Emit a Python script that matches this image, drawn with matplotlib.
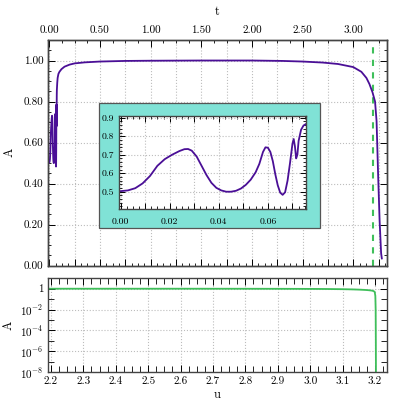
import matplotlib
matplotlib.use("Agg")
import matplotlib.pyplot as plt
from matplotlib.patches import Rectangle
from matplotlib.ticker import MultipleLocator, FixedLocator, FuncFormatter, NullFormatter, FormatStrFormatter
import numpy as np

plt.rcParams['font.family'] = 'serif'
plt.rcParams['font.serif'] = ['cmr10', 'DejaVu Serif']
plt.rcParams['mathtext.fontset'] = 'cm'
plt.rcParams['axes.formatter.use_mathtext'] = True
plt.rcParams['axes.unicode_minus'] = False

# ---------------- data ----------------
t_early = [0.000, 0.003, 0.006, 0.009, 0.012, 0.015, 0.018, 0.021, 0.024, 0.026,
           0.0275, 0.029, 0.031, 0.033, 0.035, 0.037, 0.039, 0.041, 0.043, 0.045,
           0.047, 0.049, 0.051, 0.053, 0.055, 0.0565, 0.058, 0.059, 0.060, 0.061,
           0.062, 0.063, 0.064, 0.065, 0.066, 0.067, 0.068, 0.069, 0.0700, 0.0705,
           0.0710, 0.0715, 0.0720, 0.0725, 0.0735, 0.0745, 0.0755]
A_early = [0.503, 0.507, 0.519, 0.545, 0.585, 0.640, 0.676, 0.700, 0.720, 0.730,
           0.731, 0.722, 0.690, 0.640, 0.590, 0.548, 0.521, 0.507, 0.500, 0.500,
           0.505, 0.517, 0.537, 0.565, 0.605, 0.650, 0.715, 0.740, 0.738, 0.715,
           0.665, 0.595, 0.535, 0.495, 0.483, 0.497, 0.560, 0.655, 0.760, 0.785,
           0.745, 0.680, 0.700, 0.775, 0.835, 0.858, 0.866]
t_late = [0.078, 0.082, 0.09, 0.10, 0.12, 0.15, 0.20, 0.25, 0.35, 0.50, 0.75,
          1.00, 1.50, 2.00, 2.30, 2.50, 2.70, 2.85, 3.00, 3.08, 3.13, 3.16, 3.19,
          3.215, 3.23, 3.245, 3.26, 3.275, 3.282]
A_late = [0.89, 0.915, 0.935, 0.945, 0.958, 0.970, 0.980, 0.986, 0.991, 0.995, 0.998,
          0.999, 1.000, 1.000, 0.998, 0.995, 0.990, 0.983, 0.968, 0.945, 0.915, 0.885, 0.845,
          0.800, 0.705, 0.45, 0.22, 0.06, 0.035]
t_crit = 3.19

u_vals = [2.19, 2.4, 2.6, 2.8, 2.9, 3.0, 3.05, 3.1, 3.13, 3.15, 3.17, 3.18, 3.19,
          3.195, 3.199, 3.201, 3.202, 3.2025, 3.203]
A_u = [1.0, 1.0, 1.0, 0.99, 0.98, 0.96, 0.94, 0.90, 0.86, 0.82, 0.76, 0.72, 0.66,
       0.6, 0.5, 0.2, 1e-2, 1e-5, 1e-9]

PURPLE = '#4a0f96'
GREEN = '#3fbf5a'
CYAN = '#80e2d6'
SPINE = '#444444'
GRID = '#bdbdbd'

fig = plt.figure(figsize=(4.07, 4.07), dpi=100)

def style(ax, fs=8):
    ax.tick_params(which='both', direction='in', top=True, right=True, labelsize=fs,
                   colors='black')
    ax.tick_params(which='major', length=5, width=0.7)
    ax.tick_params(which='minor', length=2.5, width=0.6)
    for s in ax.spines.values():
        s.set_color(SPINE)
        s.set_linewidth(1.0)

# ---------------- top panel ----------------
ax1 = fig.add_axes([0.1187, 0.3474, 0.8314, 0.5543])
ax1.set_zorder(0)
t_all = t_early + t_late
A_all = A_early + A_late
ax1.plot(t_all, A_all, color=PURPLE, lw=1.3, zorder=3)
ax1.axvline(t_crit, color=GREEN, lw=1.5, ls=(0, (3, 3)), zorder=2)
ax1.set_xlim(-0.01, 3.33)
ax1.set_ylim(0, 1.1)
ax1.xaxis.set_major_locator(MultipleLocator(0.25))
ax1.xaxis.set_minor_locator(MultipleLocator(0.0625))
ax1.xaxis.set_major_formatter(NullFormatter())
ax1.yaxis.set_major_locator(MultipleLocator(0.2))
ax1.yaxis.set_minor_locator(MultipleLocator(0.05))
ax1.yaxis.set_major_formatter(FormatStrFormatter('%.2f'))
ax1.grid(True, which='major', ls=':', color=GRID, lw=0.8)
style(ax1)
ax1.tick_params(axis='x', which='both', top=False)
ax1.set_ylabel('A', fontsize=9, labelpad=6)

ax1t = ax1.twiny()
ax1t.set_xlim(ax1.get_xlim())
ax1t.xaxis.set_major_locator(MultipleLocator(0.5))
ax1t.xaxis.set_minor_locator(MultipleLocator(0.125))
ax1t.xaxis.set_major_formatter(FormatStrFormatter('%.2f'))
style(ax1t)
ax1t.tick_params(axis='x', which='both', bottom=False)
ax1t.set_xlabel('t', fontsize=9, labelpad=8)

# cyan box behind inset
rect = Rectangle((0.2432, 0.4391), 0.7862 - 0.2432, 0.7462 - 0.4391,
                 transform=fig.transFigure, facecolor=CYAN, edgecolor='#555555',
                 lw=0.9, zorder=1)
fig.patches.append(rect)

# ---------------- inset ----------------
axi = fig.add_axes([0.2931, 0.4865, 0.4587, 0.2292])
axi.set_zorder(2)
axi.plot(t_early, A_early, color=PURPLE, lw=1.3)
axi.set_xlim(-0.0005, 0.0755)
axi.set_ylim(0.4065, 0.911)
axi.xaxis.set_major_locator(MultipleLocator(0.01))
axi.xaxis.set_minor_locator(MultipleLocator(0.0025))
axi.xaxis.set_major_formatter(FuncFormatter(
    lambda v, p: ('%.2f' % v) if abs(round(v * 100) % 2) < 0.5 else ''))
axi.yaxis.set_major_locator(MultipleLocator(0.1))
axi.yaxis.set_minor_locator(MultipleLocator(0.02))
axi.yaxis.set_major_formatter(FormatStrFormatter('%.1f'))
axi.grid(True, which='major', ls=':', color=GRID, lw=0.8)
style(axi, fs=7)
axi.tick_params(which='major', length=4)
axi.tick_params(which='minor', length=2)
axi.tick_params(axis='x', pad=6)

# ---------------- bottom panel ----------------
ax2 = fig.add_axes([0.1187, 0.086, 0.8314, 0.2302])
ax2.plot(u_vals, A_u, color=GREEN, lw=1.3)
ax2.set_yscale('log')
ax2.set_xlim(2.192, 3.236)
ax2.set_ylim(1e-8, 10)
ax2.xaxis.set_major_locator(MultipleLocator(0.1))
ax2.xaxis.set_minor_locator(MultipleLocator(0.025))
ax2.xaxis.set_major_formatter(FormatStrFormatter('%.1f'))
ax2.yaxis.set_major_locator(FixedLocator([1e-8, 1e-6, 1e-4, 1e-2, 1]))
ax2.yaxis.set_minor_locator(FixedLocator([1e-7, 1e-5, 1e-3, 1e-1, 10]))
ax2.yaxis.set_major_formatter(FuncFormatter(
    lambda v, p: '1' if abs(v - 1) < 1e-9 else r'$10^{%d}$' % int(round(np.log10(v)))))
ax2.yaxis.set_minor_formatter(NullFormatter())
ax2.grid(True, which='major', ls=':', color=GRID, lw=0.8)
style(ax2)
ax2.tick_params(which='minor', length=4)
ax2.set_xlabel('u', fontsize=9, labelpad=2)
ax2.set_ylabel('A', fontsize=9, labelpad=4)

fig.savefig('out.png', dpi=100)
